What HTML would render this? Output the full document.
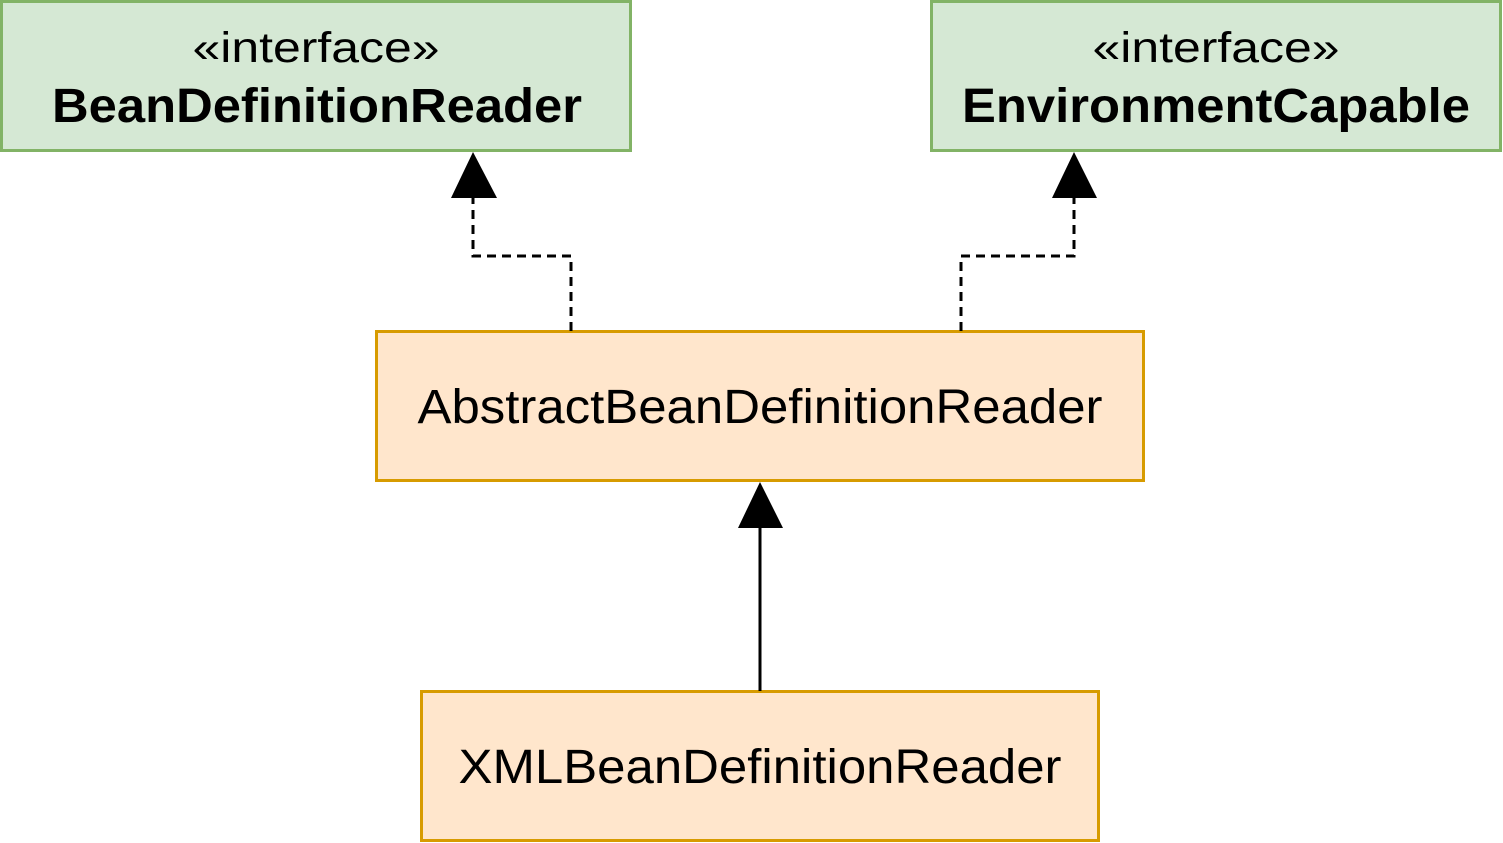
<!DOCTYPE html>
<html><head><style>html,body{margin:0;padding:0;background:#fff}svg{display:block}</style></head>
<body>
<svg width="1503" height="843" viewBox="0 0 1503 843" xmlns="http://www.w3.org/2000/svg" font-family="Liberation Sans, Arial, sans-serif">
<rect x="1.5" y="1.5" width="629" height="149" fill="#d5e8d4" stroke="#82b366" stroke-width="3"/>
<rect x="931.5" y="1.5" width="569" height="149" fill="#d5e8d4" stroke="#82b366" stroke-width="3"/>
<rect x="376.5" y="331.5" width="767" height="149" fill="#ffe6cc" stroke="#d79b00" stroke-width="3"/>
<rect x="421.5" y="691.5" width="677" height="149" fill="#ffe6cc" stroke="#d79b00" stroke-width="3"/>
<g font-size="43" text-anchor="middle" fill="#000">
<text x="316" y="62" textLength="247" lengthAdjust="spacingAndGlyphs">«interface»</text>
<text x="1216" y="62" textLength="247" lengthAdjust="spacingAndGlyphs">«interface»</text>
</g>
<g font-size="48" font-weight="bold" text-anchor="middle">
<text x="317" y="122" textLength="530" lengthAdjust="spacingAndGlyphs">BeanDefinitionReader</text>
<text x="1216" y="122" textLength="508" lengthAdjust="spacingAndGlyphs">EnvironmentCapable</text>
</g>
<g font-size="48" text-anchor="middle">
<text x="760" y="423" textLength="685" lengthAdjust="spacingAndGlyphs">AbstractBeanDefinitionReader</text>
<text x="760" y="783" textLength="603" lengthAdjust="spacingAndGlyphs">XMLBeanDefinitionReader</text>
</g>
<g fill="none" stroke="#000" stroke-width="3" stroke-dasharray="9 6">
<polyline points="571,331 571,256 473,256 473,198"/>
<polyline points="961,331 961,256 1074,256 1074,198"/>
</g>
<line x1="760" y1="691" x2="760" y2="528" stroke="#000" stroke-width="3"/>
<polygon points="473,152 451,198 497,198" fill="#000"/>
<polygon points="1074,152 1052,198 1097,198" fill="#000"/>
<polygon points="760,482 738,528 783,528" fill="#000"/>
</svg>
</body></html>
